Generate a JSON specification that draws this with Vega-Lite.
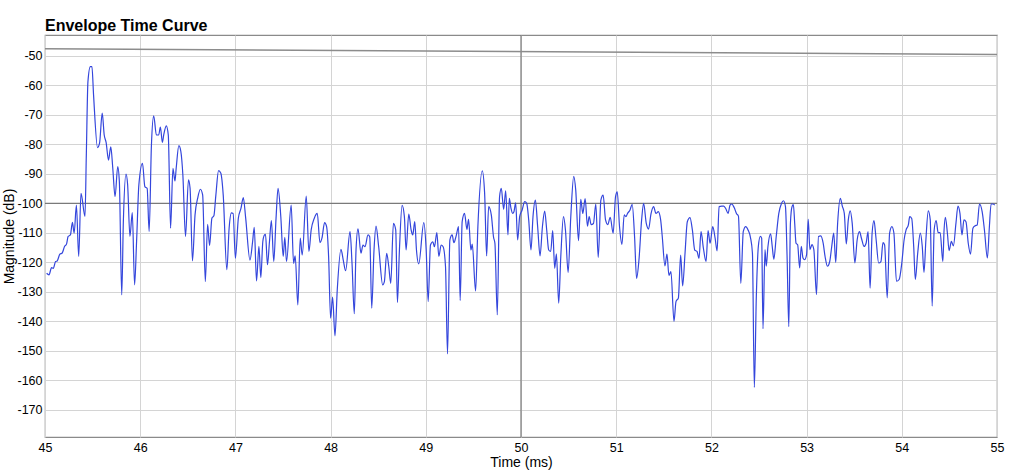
{
  "$schema": "https://vega.github.io/schema/vega-lite/v6.json",
  "width": 952,
  "height": 402,
  "autosize": {"type": "none"},
  "padding": {"left": 45, "top": 35, "right": 33, "bottom": 39},
  "background": "white",
  "title": {"text": "Envelope Time Curve", "anchor": "start", "frame": "group", "font": "Liberation Sans", "fontSize": 16, "fontWeight": "bold", "color": "#000000", "offset": 0},
  "config": {
    "view": {"stroke": "#8a8a8a", "strokeWidth": 1.2},
    "axis": {"labelFont": "Liberation Sans", "labelFontSize": 12.5, "labelColor": "#000000", "titleFont": "Liberation Sans", "titleFontSize": 14, "titleFontWeight": "normal", "titleColor": "#000000", "gridColor": "#d4d4d4", "gridWidth": 1, "gridOpacity": 1, "domain": false, "ticks": false, "tickSize": 0, "labelOverlap": false, "labelExpr": "'' + datum.value"},
    "axisX": {"values": [45,46,47,48,49,50,51,52,53,54,55], "labelPadding": 4, "titlePadding": 2, "labelFlush": false},
    "axisY": {"values": [-50,-60,-70,-80,-90,-100,-110,-120,-130,-140,-150,-160,-170], "labelPadding": 3, "titlePadding": 0}
  },
  "datasets": {
    "curve": [
      {"t":45.017,"db":-123.7},{"t":45.042,"db":-124.2},{"t":45.069,"db":-121.8},{"t":45.087,"db":-122.0},{"t":45.111,"db":-119.7},{"t":45.128,"db":-119.5},{"t":45.156,"db":-117.2},{"t":45.181,"db":-116.8},{"t":45.205,"db":-114.6},{"t":45.226,"db":-113.8},{"t":45.243,"db":-111.2},{"t":45.267,"db":-110.7},{"t":45.288,"db":-106.4},{"t":45.306,"db":-110.1},{"t":45.330,"db":-100.6},{"t":45.354,"db":-118.0},{"t":45.378,"db":-96.6},{"t":45.420,"db":-104.4},{"t":45.434,"db":-83.6},{"t":45.451,"db":-58.7},{"t":45.476,"db":-53.6},{"t":45.493,"db":-53.6},{"t":45.510,"db":-63.2},{"t":45.552,"db":-81.1},{"t":45.573,"db":-79.6},{"t":45.601,"db":-69.4},{"t":45.622,"db":-76.8},{"t":45.642,"db":-79.3},{"t":45.667,"db":-85.3},{"t":45.691,"db":-80.8},{"t":45.712,"db":-88.1},{"t":45.736,"db":-97.7},{"t":45.764,"db":-87.5},{"t":45.781,"db":-92.6},{"t":45.806,"db":-131.0},{"t":45.823,"db":-106.2},{"t":45.851,"db":-90.1},{"t":45.868,"db":-93.7},{"t":45.892,"db":-111.2},{"t":45.917,"db":-103.1},{"t":45.941,"db":-127.6},{"t":45.962,"db":-112.9},{"t":45.986,"db":-93.7},{"t":46.024,"db":-86.4},{"t":46.049,"db":-94.3},{"t":46.073,"db":-94.9},{"t":46.094,"db":-109.5},{"t":46.118,"db":-80.2},{"t":46.142,"db":-70.3},{"t":46.170,"db":-76.8},{"t":46.194,"db":-76.8},{"t":46.212,"db":-74.1},{"t":46.233,"db":-79.3},{"t":46.247,"db":-76.8},{"t":46.274,"db":-73.7},{"t":46.295,"db":-76.8},{"t":46.319,"db":-108.4},{"t":46.344,"db":-88.1},{"t":46.365,"db":-92.4},{"t":46.378,"db":-88.1},{"t":46.406,"db":-80.4},{"t":46.427,"db":-82.4},{"t":46.448,"db":-90.3},{"t":46.476,"db":-111.2},{"t":46.507,"db":-92.0},{"t":46.524,"db":-94.9},{"t":46.549,"db":-119.5},{"t":46.576,"db":-103.9},{"t":46.604,"db":-98.2},{"t":46.632,"db":-95.2},{"t":46.656,"db":-97.1},{"t":46.684,"db":-126.5},{"t":46.708,"db":-107.1},{"t":46.729,"db":-114.3},{"t":46.753,"db":-105.0},{"t":46.774,"db":-104.2},{"t":46.795,"db":-97.1},{"t":46.823,"db":-88.9},{"t":46.847,"db":-89.8},{"t":46.872,"db":-97.1},{"t":46.910,"db":-122.5},{"t":46.934,"db":-108.4},{"t":46.958,"db":-103.2},{"t":46.976,"db":-103.4},{"t":47.000,"db":-118.6},{"t":47.031,"db":-105.0},{"t":47.059,"db":-101.6},{"t":47.083,"db":-98.0},{"t":47.108,"db":-105.0},{"t":47.153,"db":-119.2},{"t":47.181,"db":-112.9},{"t":47.198,"db":-108.1},{"t":47.222,"db":-126.3},{"t":47.247,"db":-114.6},{"t":47.267,"db":-125.1},{"t":47.288,"db":-112.9},{"t":47.306,"db":-110.7},{"t":47.316,"db":-110.5},{"t":47.337,"db":-120.8},{"t":47.358,"db":-112.9},{"t":47.378,"db":-105.8},{"t":47.403,"db":-119.7},{"t":47.427,"db":-105.0},{"t":47.448,"db":-94.9},
      {"t":47.477,"db":-104.5},{"t":47.502,"db":-118.0},{"t":47.519,"db":-111.5},{"t":47.537,"db":-119.7},{"t":47.586,"db":-100.6},{"t":47.611,"db":-120.3},{"t":47.628,"db":-117.8},{"t":47.656,"db":-134.4},{"t":47.681,"db":-111.8},{"t":47.702,"db":-117.5},{"t":47.744,"db":-97.5},{"t":47.772,"db":-116.3},{"t":47.796,"db":-109.0},{"t":47.828,"db":-105.1},{"t":47.860,"db":-103.4},{"t":47.888,"db":-113.3},{"t":47.909,"db":-111.8},{"t":47.937,"db":-106.5},{"t":47.958,"db":-107.9},{"t":47.979,"db":-118.0},{"t":48.000,"db":-138.9},{"t":48.021,"db":-131.8},{"t":48.046,"db":-144.9},{"t":48.070,"db":-129.3},{"t":48.109,"db":-115.6},{"t":48.133,"db":-119.2},{"t":48.158,"db":-122.8},{"t":48.204,"db":-109.6},{"t":48.225,"db":-120.3},{"t":48.249,"db":-137.4},{"t":48.267,"db":-115.8},{"t":48.288,"db":-108.6},{"t":48.319,"db":-116.9},{"t":48.340,"db":-114.1},{"t":48.361,"db":-114.7},{"t":48.393,"db":-110.7},{"t":48.411,"db":-111.3},{"t":48.432,"db":-135.5},{"t":48.456,"db":-115.8},{"t":48.477,"db":-107.7},{"t":48.505,"db":-114.7},{"t":48.547,"db":-127.6},{"t":48.565,"db":-126.5},{"t":48.589,"db":-116.9},{"t":48.611,"db":-121.4},{"t":48.632,"db":-127.1},{"t":48.660,"db":-106.8},{"t":48.684,"db":-109.0},{"t":48.702,"db":-133.6},{"t":48.723,"db":-115.8},{"t":48.751,"db":-100.7},{"t":48.775,"db":-104.5},{"t":48.793,"db":-115.8},{"t":48.821,"db":-103.6},{"t":48.846,"db":-109.0},{"t":48.863,"db":-110.7},{"t":48.884,"db":-106.2},{"t":48.902,"db":-115.8},{"t":48.926,"db":-120.5},{"t":48.979,"db":-106.5},{"t":49.004,"db":-115.8},{"t":49.025,"db":-133.3},{"t":49.049,"db":-114.1},{"t":49.074,"db":-113.0},{"t":49.091,"db":-114.7},{"t":49.116,"db":-109.9},{"t":49.137,"db":-118.0},{"t":49.161,"db":-114.1},{"t":49.182,"db":-114.7},{"t":49.207,"db":-121.4},{"t":49.228,"db":-151.0},{"t":49.253,"db":-112.4},{"t":49.277,"db":-110.7},{"t":49.295,"db":-113.3},{"t":49.319,"db":-111.0},{"t":49.344,"db":-107.9},{"t":49.361,"db":-132.9},{"t":49.382,"db":-106.2},{"t":49.407,"db":-103.4},{"t":49.432,"db":-108.8},{"t":49.449,"db":-105.4},{"t":49.474,"db":-115.8},{"t":49.488,"db":-113.8},{"t":49.523,"db":-129.7},{"t":49.547,"db":-107.9},{"t":49.593,"db":-89.0},{"t":49.618,"db":-96.6},{"t":49.639,"db":-117.8},{"t":49.660,"db":-101.1},{"t":49.688,"db":-103.9},{"t":49.712,"db":-111.5},{"t":49.726,"db":-113.5},{"t":49.751,"db":-137.8},{"t":49.775,"db":-97.7},{"t":49.793,"db":-94.9},{"t":49.818,"db":-102.0},{"t":49.839,"db":-95.7},{"t":49.863,"db":-110.7},
      {"t":49.877,"db":-98.3},{"t":49.895,"db":-101.7},{"t":49.912,"db":-103.4},{"t":49.926,"db":-102.8},{"t":49.944,"db":-99.8},{"t":49.965,"db":-112.4},{"t":49.986,"db":-104.5},{"t":50.011,"db":-102.3},{"t":50.039,"db":-99.4},{"t":50.060,"db":-100.0},{"t":50.081,"db":-105.6},{"t":50.105,"db":-115.8},{"t":50.126,"db":-104.5},{"t":50.151,"db":-98.9},{"t":50.175,"db":-107.9},{"t":50.200,"db":-117.8},{"t":50.225,"db":-107.9},{"t":50.249,"db":-102.6},{"t":50.270,"db":-109.0},{"t":50.291,"db":-115.8},{"t":50.312,"db":-116.3},{"t":50.333,"db":-109.2},{"t":50.354,"db":-122.0},{"t":50.372,"db":-117.1},{"t":50.396,"db":-133.8},{"t":50.418,"db":-118.0},{"t":50.446,"db":-104.5},{"t":50.467,"db":-109.0},{"t":50.495,"db":-123.4},{"t":50.523,"db":-104.5},{"t":50.554,"db":-90.8},{"t":50.575,"db":-95.5},{"t":50.604,"db":-112.6},{"t":50.628,"db":-98.6},{"t":50.649,"db":-103.4},{"t":50.674,"db":-98.4},{"t":50.698,"db":-107.7},{"t":50.716,"db":-104.5},{"t":50.737,"db":-107.2},{"t":50.761,"db":-106.8},{"t":50.786,"db":-100.2},{"t":50.811,"db":-118.3},{"t":50.839,"db":-98.9},{"t":50.863,"db":-97.2},{"t":50.888,"db":-105.6},{"t":50.912,"db":-107.2},{"t":50.937,"db":-104.7},{"t":50.968,"db":-110.1},{"t":50.993,"db":-97.7},{"t":51.011,"db":-96.1},{"t":51.035,"db":-107.9},{"t":51.060,"db":-113.9},{"t":51.084,"db":-103.9},{"t":51.102,"db":-104.5},{"t":51.119,"db":-103.4},{"t":51.144,"db":-102.3},{"t":51.168,"db":-100.3},{"t":51.193,"db":-111.3},{"t":51.214,"db":-125.4},{"t":51.239,"db":-119.2},{"t":51.267,"db":-105.6},{"t":51.288,"db":-100.0},{"t":51.316,"db":-106.8},{"t":51.340,"db":-108.7},{"t":51.365,"db":-103.6},{"t":51.393,"db":-101.1},{"t":51.418,"db":-103.4},{"t":51.442,"db":-102.8},{"t":51.467,"db":-105.6},{"t":51.484,"db":-111.3},{"t":51.512,"db":-121.2},{"t":51.533,"db":-117.2},{"t":51.554,"db":-124.4},{"t":51.575,"db":-123.1},{"t":51.607,"db":-140.0},{"t":51.628,"db":-133.3},{"t":51.653,"db":-132.1},{"t":51.677,"db":-117.5},{"t":51.698,"db":-128.0},{"t":51.723,"db":-116.9},{"t":51.747,"db":-106.2},{"t":51.775,"db":-104.8},{"t":51.800,"db":-109.0},{"t":51.825,"db":-115.8},{"t":51.849,"db":-116.3},{"t":51.870,"db":-118.6},{"t":51.891,"db":-109.6},{"t":51.916,"db":-115.2},{"t":51.944,"db":-119.7},{"t":51.965,"db":-109.2},{"t":51.986,"db":-113.5},{"t":52.014,"db":-107.9},{"t":52.039,"db":-111.8},{"t":52.060,"db":-116.1},{"t":52.081,"db":-101.1},{"t":52.109,"db":-100.9},{"t":52.130,"db":-100.9},{"t":52.154,"db":-102.0},{"t":52.175,"db":-103.4},{"t":52.196,"db":-100.6},{"t":52.214,"db":-100.2},{"t":52.239,"db":-101.4},{"t":52.263,"db":-103.4},{"t":52.284,"db":-104.3},{"t":52.309,"db":-127.1},{"t":52.335,"db":-109.5},{"t":52.361,"db":-107.9},{"t":52.385,"db":-109.0},
      {"t":52.410,"db":-111.5},{"t":52.431,"db":-116.9},{"t":52.451,"db":-162.4},{"t":52.472,"db":-131.5},{"t":52.493,"db":-114.6},{"t":52.514,"db":-111.2},{"t":52.528,"db":-111.8},{"t":52.542,"db":-142.5},{"t":52.563,"db":-115.7},{"t":52.576,"db":-121.3},{"t":52.594,"db":-114.6},{"t":52.622,"db":-110.3},{"t":52.639,"db":-114.6},{"t":52.656,"db":-118.9},{"t":52.681,"db":-111.2},{"t":52.708,"db":-103.4},{"t":52.736,"db":-100.0},{"t":52.757,"db":-99.1},{"t":52.778,"db":-101.1},{"t":52.795,"db":-118.0},{"t":52.813,"db":-141.8},{"t":52.830,"db":-106.7},{"t":52.847,"db":-101.1},{"t":52.861,"db":-100.4},{"t":52.875,"db":-106.7},{"t":52.889,"db":-113.5},{"t":52.906,"db":-114.0},{"t":52.927,"db":-121.9},{"t":52.944,"db":-114.6},{"t":52.962,"db":-118.5},{"t":52.979,"db":-119.1},{"t":53.000,"db":-117.4},{"t":53.017,"db":-105.4},{"t":53.035,"db":-115.7},{"t":53.056,"db":-114.0},{"t":53.076,"db":-115.7},{"t":53.104,"db":-130.9},{"t":53.125,"db":-111.2},{"t":53.149,"db":-111.0},{"t":53.174,"db":-113.5},{"t":53.194,"db":-118.0},{"t":53.219,"db":-121.3},{"t":53.243,"db":-119.7},{"t":53.264,"db":-114.6},{"t":53.285,"db":-110.1},{"t":53.306,"db":-120.0},{"t":53.326,"db":-106.7},{"t":53.354,"db":-98.3},{"t":53.375,"db":-100.9},{"t":53.396,"db":-103.4},{"t":53.417,"db":-113.7},{"t":53.438,"db":-105.6},{"t":53.458,"db":-102.5},{"t":53.479,"db":-106.7},{"t":53.507,"db":-120.2},{"t":53.531,"db":-112.4},{"t":53.556,"db":-109.6},{"t":53.576,"db":-111.8},{"t":53.604,"db":-114.6},{"t":53.625,"db":-113.5},{"t":53.646,"db":-109.6},{"t":53.667,"db":-128.7},{"t":53.688,"db":-110.1},{"t":53.708,"db":-105.8},{"t":53.729,"db":-111.8},{"t":53.757,"db":-120.2},{"t":53.781,"db":-119.7},{"t":53.802,"db":-113.3},{"t":53.819,"db":-114.0},{"t":53.847,"db":-132.0},{"t":53.872,"db":-110.1},{"t":53.896,"db":-107.9},{"t":53.917,"db":-110.1},{"t":53.944,"db":-126.4},{"t":53.972,"db":-125.8},{"t":54.000,"db":-120.2},{"t":54.024,"db":-112.4},{"t":54.045,"db":-109.0},{"t":54.069,"db":-107.3},{"t":54.083,"db":-104.5},{"t":54.104,"db":-105.1},{"t":54.125,"db":-114.6},{"t":54.142,"db":-125.8},{"t":54.167,"db":-116.9},{"t":54.194,"db":-110.1},{"t":54.215,"db":-114.6},{"t":54.233,"db":-123.4},{"t":54.253,"db":-112.4},{"t":54.278,"db":-102.5},{"t":54.299,"db":-105.6},{"t":54.319,"db":-134.8},{"t":54.340,"db":-109.0},{"t":54.361,"db":-105.8},{"t":54.382,"db":-109.9},{"t":54.403,"db":-109.9},{"t":54.431,"db":-119.7},{"t":54.444,"db":-109.0},{"t":54.458,"db":-104.7},{"t":54.479,"db":-110.1},{"t":54.497,"db":-116.0},{"t":54.521,"db":-112.9},{"t":54.542,"db":-114.4},{"t":54.569,"db":-106.7},{"t":54.590,"db":-100.9},{"t":54.611,"db":-103.4},{"t":54.632,"db":-110.7},{"t":54.653,"db":-105.6},{"t":54.674,"db":-106.2},{"t":54.698,"db":-113.5},{"t":54.722,"db":-117.2},{"t":54.747,"db":-108.4},{"t":54.771,"db":-107.6},{"t":54.792,"db":-107.3},{"t":54.816,"db":-100.2},{"t":54.844,"db":-102.8},{"t":54.868,"db":-109.0},{"t":54.899,"db":-118.5},{"t":54.920,"db":-107.9},{"t":54.938,"db":-100.2},{"t":54.958,"db":-100.2},{"t":54.976,"db":-100.6}
    ],
    "hline": [{"db": -100}],
    "vline": [{"t": 50}],
    "slope": [{"t": 45, "db": -47.6}, {"t": 55, "db": -49.5}]
  },
  "layer": [
    {
      "data": {"name": "hline"},
      "mark": {"type": "rule", "color": "#7a7a7a", "strokeWidth": 1.2},
      "encoding": {
        "y": {"field": "db", "type": "quantitative", "title": "Magnitude (dB)",
              "scale": {"domain": [-179.2, -42.9], "nice": false, "zero": false},
              "axis": {"values": [-50,-60,-70,-80,-90,-100,-110,-120,-130,-140,-150,-160,-170]}}
      }
    },
    {
      "data": {"name": "vline"},
      "mark": {"type": "rule", "color": "#7a7a7a", "strokeWidth": 1.2},
      "encoding": {
        "x": {"field": "t", "type": "quantitative", "title": "Time (ms)",
              "scale": {"domain": [45, 55], "nice": false, "zero": false},
              "axis": {"values": [45,46,47,48,49,50,51,52,53,54,55]}}
      }
    },
    {
      "data": {"name": "slope"},
      "mark": {"type": "line", "color": "#8c8c8c", "strokeWidth": 1.5},
      "encoding": {
        "x": {"field": "t", "type": "quantitative", "title": "Time (ms)",
              "scale": {"domain": [45, 55], "nice": false, "zero": false},
              "axis": {"values": [45,46,47,48,49,50,51,52,53,54,55]}},
        "y": {"field": "db", "type": "quantitative", "title": "Magnitude (dB)",
              "scale": {"domain": [-179.2, -42.9], "nice": false, "zero": false},
              "axis": {"values": [-50,-60,-70,-80,-90,-100,-110,-120,-130,-140,-150,-160,-170]}}
      }
    },
    {
      "data": {"name": "curve"},
      "mark": {"type": "line", "color": "#3446dc", "strokeWidth": 1.2, "interpolate": "monotone", "clip": true},
      "encoding": {
        "x": {"field": "t", "type": "quantitative", "title": "Time (ms)",
              "scale": {"domain": [45, 55], "nice": false, "zero": false},
              "axis": {"values": [45,46,47,48,49,50,51,52,53,54,55]}},
        "y": {"field": "db", "type": "quantitative", "title": "Magnitude (dB)",
              "scale": {"domain": [-179.2, -42.9], "nice": false, "zero": false},
              "axis": {"values": [-50,-60,-70,-80,-90,-100,-110,-120,-130,-140,-150,-160,-170]}}
      }
    }
  ]
}
